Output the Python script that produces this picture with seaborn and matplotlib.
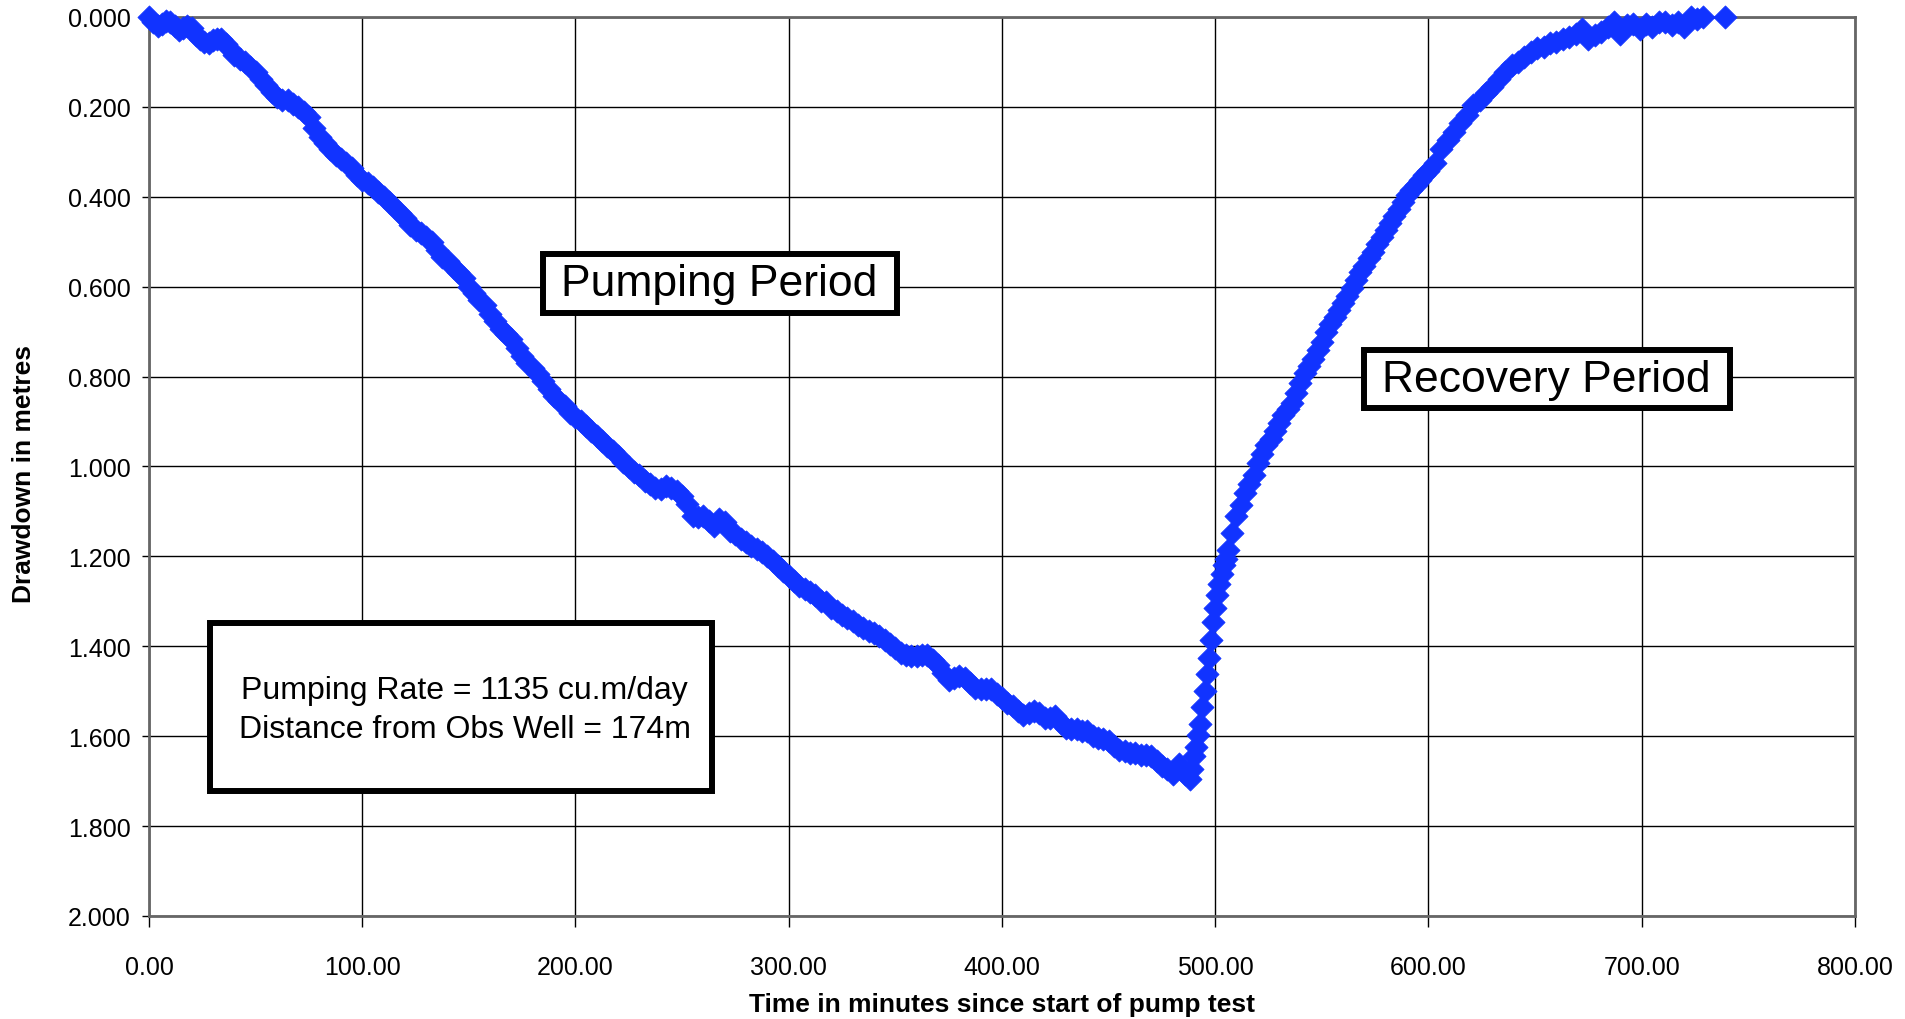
import matplotlib
matplotlib.use('Agg')
import matplotlib.pyplot as plt
import seaborn as sns
import pandas as pd
from matplotlib.patches import Rectangle
from matplotlib.ticker import FormatStrFormatter

# observation well readings (minutes since start, drawdown in metres)
pump_minutes = [0, 2, 4, 6, 8, 10, 12, 14, 16, 18, 20, 22, 24, 26, 28, 30, 32, 34, 36, 38,
                40, 42.5, 45, 47.5, 50, 52.5, 55, 57.5, 60, 62.5, 65, 67.5, 70, 72.5, 75,
                77.5, 80, 82.5, 85, 87.5, 90, 92.5, 95, 97.5, 100, 102.5, 105, 107.5, 110,
                112.5, 115, 117.5, 120, 122.5, 125, 127.5, 130, 132.5, 135, 137.5, 140,
                142.5, 145, 147.5, 150, 152.5, 155, 157.5, 160, 162.5, 165, 167.5, 170,
                172.5, 175, 177.5, 180, 182.5, 185, 187.5, 190, 192.5, 195, 197.5, 200,
                202.5, 205, 207.5, 210, 212.5, 215, 217.5, 220, 222.5, 225, 227.5, 230,
                232.5, 235, 237.5, 240, 242.5, 245, 247.5, 250, 252.5, 255, 257.5, 260,
                262.5, 265, 267.5, 270, 272.5, 275, 277.5, 280, 282.5, 285, 287.5, 290,
                292.5, 295, 297.5, 300, 302.5, 305, 307.5, 310, 312.5, 315, 317.5, 320,
                322.5, 325, 327.5, 330, 332.5, 335, 337.5, 340, 342.5, 345, 347.5, 350,
                352.5, 355, 357.5, 360, 362.5, 365, 367.5, 370, 372.5, 375, 377.5, 380,
                382.5, 385, 387.5, 390, 392.5, 395, 397.5, 400, 402.5, 405, 407.5, 410,
                412.5, 415, 417.5, 420, 422.5, 425, 427.5, 430, 432.5, 435, 437.5, 440,
                442.5, 445, 447.5, 450, 452.5, 455, 457.5, 460, 462.5, 465, 467.5, 470,
                472.5, 475, 477.5, 480, 483, 486, 488]
pump_drawdown = [0.000, 0.012, 0.020, 0.015, 0.010, 0.012, 0.020, 0.028, 0.025, 0.020,
                 0.025, 0.040, 0.048, 0.055, 0.057, 0.052, 0.050, 0.048, 0.060, 0.072,
                 0.085, 0.093, 0.100, 0.111, 0.122, 0.137, 0.152, 0.167, 0.178, 0.185,
                 0.185, 0.193, 0.200, 0.211, 0.222, 0.248, 0.267, 0.281, 0.293, 0.307,
                 0.315, 0.326, 0.337, 0.352, 0.363, 0.370, 0.378, 0.389, 0.400, 0.411,
                 0.422, 0.437, 0.448, 0.463, 0.474, 0.481, 0.489, 0.500, 0.519, 0.533,
                 0.544, 0.556, 0.567, 0.581, 0.600, 0.615, 0.630, 0.641, 0.660, 0.676,
                 0.695, 0.706, 0.717, 0.736, 0.754, 0.769, 0.780, 0.795, 0.810, 0.828,
                 0.843, 0.854, 0.865, 0.880, 0.891, 0.899, 0.910, 0.921, 0.932, 0.943,
                 0.954, 0.965, 0.976, 0.991, 1.002, 1.013, 1.020, 1.032, 1.039, 1.047,
                 1.050, 1.043, 1.047, 1.054, 1.065, 1.084, 1.110, 1.113, 1.110, 1.121,
                 1.132, 1.117, 1.124, 1.143, 1.150, 1.161, 1.169, 1.176, 1.184, 1.191,
                 1.199, 1.210, 1.221, 1.232, 1.243, 1.254, 1.265, 1.273, 1.280, 1.287,
                 1.300, 1.302, 1.315, 1.322, 1.330, 1.337, 1.344, 1.352, 1.359, 1.367,
                 1.370, 1.378, 1.385, 1.396, 1.404, 1.415, 1.419, 1.422, 1.422, 1.419,
                 1.419, 1.430, 1.441, 1.459, 1.474, 1.470, 1.467, 1.470, 1.481, 1.493,
                 1.496, 1.496, 1.496, 1.507, 1.515, 1.526, 1.533, 1.544, 1.552, 1.548,
                 1.544, 1.548, 1.559, 1.559, 1.556, 1.570, 1.581, 1.585, 1.585, 1.589,
                 1.589, 1.600, 1.604, 1.607, 1.611, 1.622, 1.630, 1.633, 1.637, 1.637,
                 1.641, 1.641, 1.644, 1.656, 1.667, 1.674, 1.685, 1.662, 1.685, 1.695]

recov_minutes = [489, 490, 491, 492, 493, 494, 495, 496, 497, 498, 499, 500, 501, 502, 503,
                 504, 505, 506, 508, 510, 512, 514, 516, 518, 520, 522, 524, 526, 528, 530,
                 532, 534, 536, 538, 540, 542, 544, 546, 548, 550, 552, 554, 556, 558, 560,
                 562, 564, 566, 568, 570, 572, 574, 576, 578, 580, 582, 584, 586, 588, 590,
                 592, 594, 596, 598, 600, 603, 606, 609, 612, 615, 618, 621, 624, 627, 630,
                 633, 636, 639, 642, 645, 648, 651, 654, 657, 660, 663, 666, 669, 672, 675,
                 678, 681, 684, 687, 690, 693, 696, 699, 702, 705, 708, 711, 714, 717, 720,
                 723, 726, 729, 739]
recov_drawdown = [1.672, 1.645, 1.625, 1.598, 1.572, 1.535, 1.500, 1.462, 1.425, 1.385,
                  1.345, 1.315, 1.285, 1.262, 1.240, 1.220, 1.205, 1.185, 1.148, 1.110,
                  1.085, 1.060, 1.040, 1.019, 0.993, 0.973, 0.952, 0.938, 0.922, 0.903,
                  0.885, 0.872, 0.858, 0.836, 0.815, 0.791, 0.776, 0.761, 0.740, 0.722,
                  0.700, 0.684, 0.668, 0.652, 0.636, 0.620, 0.603, 0.585, 0.568, 0.553,
                  0.537, 0.522, 0.506, 0.490, 0.474, 0.459, 0.443, 0.428, 0.412, 0.396,
                  0.384, 0.373, 0.362, 0.352, 0.342, 0.326, 0.293, 0.274, 0.256, 0.237,
                  0.219, 0.196, 0.185, 0.170, 0.156, 0.137, 0.122, 0.107, 0.100, 0.089,
                  0.078, 0.070, 0.067, 0.059, 0.056, 0.048, 0.044, 0.037, 0.026, 0.048,
                  0.041, 0.033, 0.022, 0.011, 0.037, 0.019, 0.015, 0.026, 0.015, 0.022,
                  0.011, 0.011, 0.019, 0.011, 0.022, 0.000, 0.004, 0.000, 0.000]

x_ticks = [0, 100, 200, 300, 400, 500, 600, 700, 800]
y_ticks = [0.0, 0.2, 0.4, 0.6, 0.8, 1.0, 1.2, 1.4, 1.6, 1.8, 2.0]

sns.set_style('white')
plt.rcParams['font.family'] = ['Liberation Sans', 'DejaVu Sans']
plt.rcParams['text.color'] = 'black'
plt.rcParams['axes.labelcolor'] = 'black'

df = pd.DataFrame({'minutes': pump_minutes + recov_minutes,
                   'drawdown': pump_drawdown + recov_drawdown})

fig = plt.figure(figsize=(19.05, 10.2), dpi=100)
ax = fig.add_axes([0.0782, 0.101, 0.8955, 0.8814])

blue = '#1133FF'
sns.scatterplot(data=df, x='minutes', y='drawdown', marker='D', s=140, color=blue,
                edgecolor=blue, linewidth=0.5, clip_on=False, zorder=3, ax=ax, legend=False)

ax.set_xlim(0, 800)
ax.set_ylim(2.0, 0.0)
ax.set_xticks(x_ticks)
ax.set_yticks(y_ticks)
ax.xaxis.set_major_formatter(FormatStrFormatter('%.2f'))
ax.yaxis.set_major_formatter(FormatStrFormatter('%.3f'))
ax.grid(True, color='black', linewidth=1.0)
ax.set_axisbelow(True)
for sp in ax.spines.values():
    sp.set_color('#666666')
    sp.set_linewidth(2)

ax.tick_params(axis='x', bottom=True, length=8, width=1, pad=20, labelsize=18, colors='black')
ax.tick_params(axis='y', left=True, length=5, width=1, pad=8, labelsize=18, colors='black')

ax.set_xlabel('Time in minutes since start of pump test', fontsize=19, fontweight='bold')
ax.set_ylabel('Drawdown in metres', fontsize=19, fontweight='bold')
ax.xaxis.set_label_coords(0.5, -0.085)
ax.yaxis.set_label_coords(-0.066, 0.493)

# annotation boxes
boxes = [
    ((184.6, 0.527), 166.0, 0.131),
    ((569.6, 0.742), 171.6, 0.129),
    ((28.5, 1.349), 235.3, 0.373),
]
for (x0, y0), w, h in boxes:
    ax.add_patch(Rectangle((x0, y0), w, h, facecolor='white', edgecolor='black',
                           linewidth=4.3, zorder=4))

ax.text(267.6, 0.592, 'Pumping Period', fontsize=32, ha='center', va='center', zorder=5)
ax.text(655.4, 0.807, 'Recovery Period', fontsize=32, ha='center', va='center', zorder=5)
ax.text(148, 1.54, 'Pumping Rate = 1135 cu.m/day\nDistance from Obs Well = 174m',
        fontsize=23, ha='center', va='center', multialignment='center',
        linespacing=1.4, zorder=5)

fig.savefig('out.png', dpi=100)
